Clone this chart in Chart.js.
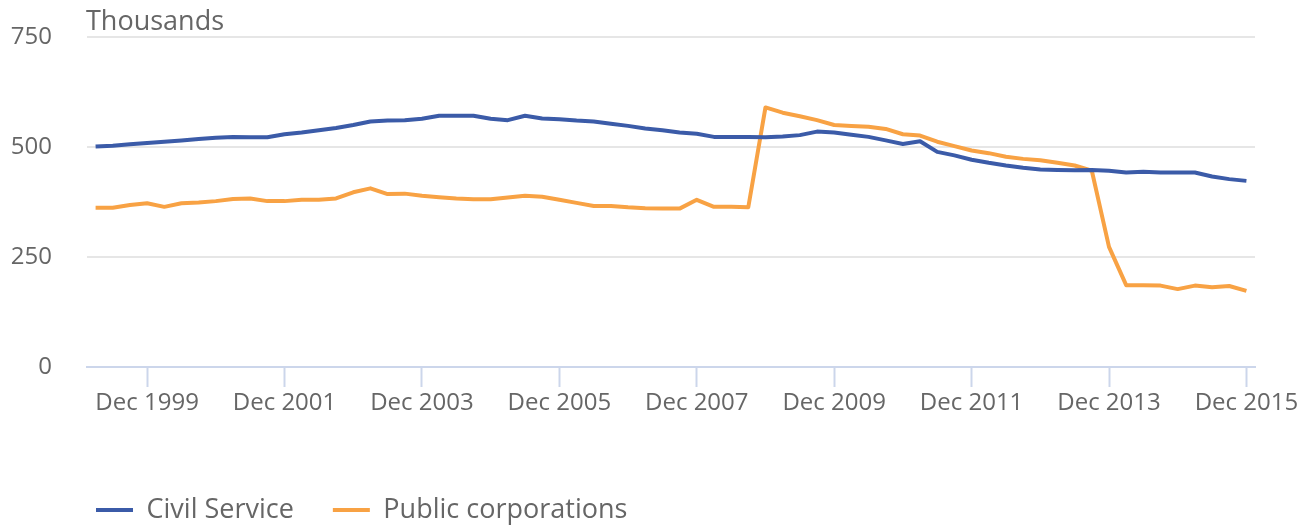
<!DOCTYPE html>
<html>
<head>
<meta charset="utf-8">
<script src="https://cdn.jsdelivr.net/npm/chart.js@4"></script>
<style>
  html, body { margin: 0; padding: 0; background: #ffffff; }
  #wrap { width: 1311px; height: 526px; position: relative; }
</style>
</head>
<body>
<div id="wrap"><canvas id="c"></canvas></div>
<script>
const categories = [
  'Mar 1999','Jun 1999','Sep 1999','Dec 1999',
  'Mar 2000','Jun 2000','Sep 2000','Dec 2000',
  'Mar 2001','Jun 2001','Sep 2001','Dec 2001',
  'Mar 2002','Jun 2002','Sep 2002','Dec 2002',
  'Mar 2003','Jun 2003','Sep 2003','Dec 2003',
  'Mar 2004','Jun 2004','Sep 2004','Dec 2004',
  'Mar 2005','Jun 2005','Sep 2005','Dec 2005',
  'Mar 2006','Jun 2006','Sep 2006','Dec 2006',
  'Mar 2007','Jun 2007','Sep 2007','Dec 2007',
  'Mar 2008','Jun 2008','Sep 2008','Dec 2008',
  'Mar 2009','Jun 2009','Sep 2009','Dec 2009',
  'Mar 2010','Jun 2010','Sep 2010','Dec 2010',
  'Mar 2011','Jun 2011','Sep 2011','Dec 2011',
  'Mar 2012','Jun 2012','Sep 2012','Dec 2012',
  'Mar 2013','Jun 2013','Sep 2013','Dec 2013',
  'Mar 2014','Jun 2014','Sep 2014','Dec 2014',
  'Mar 2015','Jun 2015','Sep 2015','Dec 2015'
];

const civilService = [
  501, 503, 506, 509, 512, 515, 518, 521, 523, 522, 522, 529,
  533, 538, 543, 550, 558, 560, 561, 564, 571, 571, 571, 564,
  561, 571, 565, 563, 560, 558, 553, 548, 542, 538, 533, 530,
  523, 523, 523, 522, 524, 527, 535, 533, 528, 523, 515, 507,
  513, 489, 481, 471, 464, 458, 453, 449, 448, 447, 448, 446,
  442, 444, 442, 442, 442, 433, 427, 423
];

const publicCorporations = [
  362, 362, 368, 372, 364, 372, 374, 377, 382, 383, 377, 377,
  380, 380, 383, 397, 406, 393, 394, 389, 386, 383, 381, 381,
  385, 389, 387, 380, 373, 366, 366, 363, 361, 360, 360, 380,
  364, 364, 363, 590, 578, 570, 561, 550, 548, 546, 541, 529,
  526, 512, 502, 492, 486, 478, 473, 470, 464, 458, 446, 273,
  186, 186, 185, 177, 185, 181, 184, 173
];

const xTickLabels = ['Dec 1999','Dec 2001','Dec 2003','Dec 2005','Dec 2007','Dec 2009','Dec 2011','Dec 2013','Dec 2015'];
const yTickValues = [0, 250, 500, 750];
const seriesNames = ['Civil Service', 'Public corporations'];
const unitLabel = 'Thousands';

const FONT = '"Open Sans", "Noto Sans", sans-serif';
const TEXT = '#666666';
const LEGEND_GAP = 39;
const LEGEND_FONT = 27;

const layoutHelper = {
  id: 'layoutHelper',
  beforeInit(chart) {
    const lg = chart.legend;
    if (lg) {
      const origFit = lg.fit.bind(lg);
      lg.fit = function() { origFit(); this.height = 39; };
    }
  },
  afterLayout(chart) {
    const lg = chart.legend;
    if (lg) {
      lg.left = chart.chartArea.left + 9 - LEGEND_GAP;
      lg.top = 510 - LEGEND_FONT / 2 - LEGEND_GAP;
    }
  },
  afterDraw(chart) {
    const ctx = chart.ctx;
    ctx.save();
    ctx.font = '27px ' + FONT;
    ctx.fillStyle = TEXT;
    ctx.textAlign = 'left';
    ctx.textBaseline = 'alphabetic';
    ctx.fillText(unitLabel, chart.chartArea.left - 1, 30);
    ctx.restore();
  }
};

new Chart(document.getElementById('c'), {
  type: 'line',
  data: {
    labels: categories,
    datasets: [
      {
        label: seriesNames[0],
        data: civilService,
        borderColor: '#3b5ba8',
        backgroundColor: '#3b5ba8',
        borderWidth: 4,
        pointRadius: 0,
        pointHoverRadius: 0,
        tension: 0,
        borderJoinStyle: 'round',
        pointStyle: 'line'
      },
      {
        label: seriesNames[1],
        data: publicCorporations,
        borderColor: '#f8a244',
        backgroundColor: '#f8a244',
        borderWidth: 4,
        pointRadius: 0,
        pointHoverRadius: 0,
        tension: 0,
        borderJoinStyle: 'round',
        pointStyle: 'line'
      }
    ]
  },
  options: {
    responsive: true,
    maintainAspectRatio: false,
    animation: false,
    devicePixelRatio: 1,
    layout: { padding: { top: 37, right: 56, bottom: 0, left: 0 } },
    plugins: {
      title: { display: false },
      tooltip: { enabled: false },
      legend: {
        display: true,
        position: 'bottom',
        align: 'start',
        fullSize: false,
        labels: {
          usePointStyle: true,
          pointStyleWidth: 37,
          boxHeight: 4,
          padding: LEGEND_GAP,
          color: TEXT,
          font: { family: FONT, size: LEGEND_FONT }
        }
      }
    },
    scales: {
      x: {
        type: 'category',
        offset: true,
        grid: {
          display: true,
          drawOnChartArea: false,
          drawTicks: true,
          tickLength: 20,
          tickWidth: 2,
          tickColor: (ctx) => (ctx.tick && xTickLabels.includes(categories[ctx.index])) ? '#ccd6eb' : 'rgba(0,0,0,0)'
        },
        border: { display: true, color: '#ccd6eb', width: 2 },
        ticks: {
          autoSkip: false,
          maxRotation: 0,
          minRotation: 0,
          padding: 2,
          color: TEXT,
          font: { family: FONT, size: 24 },
          callback: function(value, index) {
            const lab = categories[index];
            return xTickLabels.includes(lab) ? lab : '';
          }
        },
        afterFit(scale) { scale.height = 120; }
      },
      y: {
        min: 0,
        max: 750,
        afterBuildTicks(scale) { scale.ticks = yTickValues.map(v => ({ value: v })); },
        grid: {
          color: '#e6e6e6',
          lineWidth: 2,
          drawTicks: false
        },
        border: { display: false },
        ticks: {
          padding: 35,
          color: TEXT,
          font: { family: FONT, size: 24 }
        },
        afterFit(scale) {
          scale.width = 87;
          scale.paddingTop = 15;
          scale.paddingBottom = 15;
        }
      }
    }
  },
  plugins: [layoutHelper]
});
</script>
</body>
</html>
